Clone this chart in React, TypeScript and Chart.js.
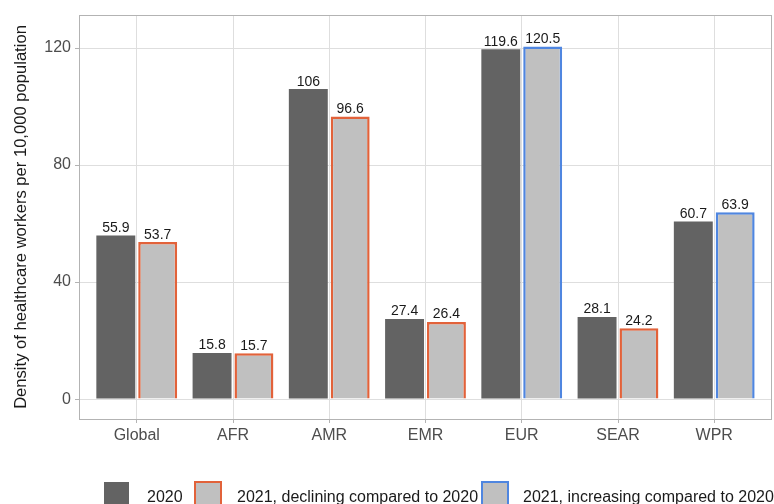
import React, { useEffect, useRef } from "react";
import { Chart, registerables } from "chart.js";

Chart.register(...registerables);

const categories = ["Global", "AFR", "AMR", "EMR", "EUR", "SEAR", "WPR"];
const values2020 = [55.9, 15.8, 106, 27.4, 119.6, 28.1, 60.7];
const values2021 = [53.7, 15.7, 96.6, 26.4, 120.5, 24.2, 63.9];
const yTicks = [0, 40, 80, 120];
const legendLabels = [
  "2020",
  "2021, declining compared to 2020",
  "2021, increasing compared to 2020",
];

const DARK = "#636363";
const LIGHT = "#c0c0c0";
const ORANGE = "#e2623a";
const BLUE = "#4f86e0";
const FONT = "'Liberation Sans', Arial, sans-serif";

const border2021 = values2021.map((v, i) => (v < values2020[i] ? ORANGE : BLUE));

const labelPlugin = {
  id: "barLabels",
  afterDatasetsDraw(chart: any) {
    const ctx = chart.ctx;
    ctx.save();
    ctx.font = `14px ${FONT}`;
    ctx.fillStyle = "#1a1a1a";
    ctx.textAlign = "center";
    ctx.textBaseline = "alphabetic";
    chart.data.datasets.forEach((ds: any, di: number) => {
      const meta = chart.getDatasetMeta(di);
      meta.data.forEach((el: any, i: number) => {
        const v = ds.data[i].y;
        ctx.fillText(String(v), el.x, el.y - 3.5);
      });
    });
    ctx.restore();
  },
};

const panelBorder = {
  id: "panelBorder",
  afterDraw(chart: any) {
    const { left, right, top, bottom } = chart.chartArea;
    const ctx = chart.ctx;
    ctx.save();
    ctx.strokeStyle = "#b3b3b3";
    ctx.lineWidth = 1;
    ctx.strokeRect(Math.round(left) + 0.5, Math.round(top) + 0.5, Math.round(right - left) - 1, Math.round(bottom - top));
    ctx.restore();
  },
};

export default function App() {
  const ref = useRef<HTMLCanvasElement>(null);
  useEffect(() => {
    document.body.style.margin = "0";
    const chart = new Chart(ref.current!, {
      type: "bar",
      data: {
        datasets: [
          {
            label: legendLabels[0],
            data: values2020.map((v, i) => ({ x: i, y: v })),
            backgroundColor: DARK,
            borderWidth: 0,
          },
          {
            label: "2021",
            data: values2021.map((v, i) => ({ x: i, y: v })),
            backgroundColor: LIGHT,
            borderColor: border2021,
            borderWidth: 2.5,
          },
        ],
      },
      options: {
        responsive: false,
        animation: false,
        categoryPercentage: 0.87,
        barPercentage: 0.93,
        layout: { padding: { top: 15, right: 2, left: 0, bottom: 0 } },
        plugins: { legend: { display: false }, tooltip: { enabled: false } },
        scales: {
          x: {
            type: "linear",
            min: -0.6,
            max: 6.6,
            bounds: "data",
            offset: false,
            afterBuildTicks: (s: any) => {
              s.ticks = categories.map((_, i) => ({ value: i }));
            },
            afterFit: (s: any) => {
              s.height = 85;
            },
            grid: {
              offset: false,
              color: "#dedede",
              lineWidth: 1,
              drawTicks: true,
              tickLength: 4,
              tickColor: "#b3b3b3",
            },
            border: { display: false },
            ticks: {
              autoSkip: false,
              maxRotation: 0,
              padding: 3,
              color: "#4d4d4d",
              font: { family: FONT, size: 16 },
              callback: (v: any) => categories[v] ?? "",
            },
          },
          y: {
            type: "linear",
            min: -6.8,
            max: 131.3,
            bounds: "data",
            afterBuildTicks: (s: any) => {
              s.ticks = yTicks.map((v) => ({ value: v }));
            },
            afterFit: (s: any) => {
              s.width = 79;
            },
            grid: {
              color: "#dedede",
              lineWidth: 1,
              drawTicks: true,
              tickLength: 4,
              tickColor: "#b3b3b3",
            },
            border: { display: false },
            ticks: {
              padding: 4,
              color: "#4d4d4d",
              font: { family: FONT, size: 16 },
            },
            title: {
              display: true,
              text: "Density of healthcare workers per 10,000 population",
              color: "#1a1a1a",
              font: { family: FONT, size: 16.6 },
              padding: { top: 11.5, bottom: 0 },
            },
          },
        },
      },
      plugins: [labelPlugin, panelBorder],
    } as any);
    return () => chart.destroy();
  }, []);

  const textStyle: React.CSSProperties = {
    position: "absolute",
    top: 489,
    fontFamily: FONT,
    fontSize: 16,
    lineHeight: "16px",
    color: "#1a1a1a",
    whiteSpace: "nowrap",
  };
  const boxStyle = (left: number, top: number, w: number, bg: string, bc?: string): React.CSSProperties => ({
    position: "absolute",
    left,
    top,
    width: w,
    height: w,
    background: bg,
    boxSizing: "border-box",
    border: bc ? `2.5px solid ${bc}` : "none",
  });

  return (
    <div style={{ position: "absolute", left: 0, top: 0, width: 774, height: 504, overflow: "hidden", background: "#fff" }}>
      <canvas ref={ref} width={774} height={504} style={{ width: 774, height: 504, display: "block" }} />
      <div style={boxStyle(104, 482, 25, DARK)} />
      <div style={{ ...textStyle, left: 147 }}>{legendLabels[0]}</div>
      <div style={boxStyle(194, 481, 28, LIGHT, ORANGE)} />
      <div style={{ ...textStyle, left: 237 }}>{legendLabels[1]}</div>
      <div style={boxStyle(481, 481, 28, LIGHT, BLUE)} />
      <div style={{ ...textStyle, left: 523 }}>{legendLabels[2]}</div>
    </div>
  );
}
